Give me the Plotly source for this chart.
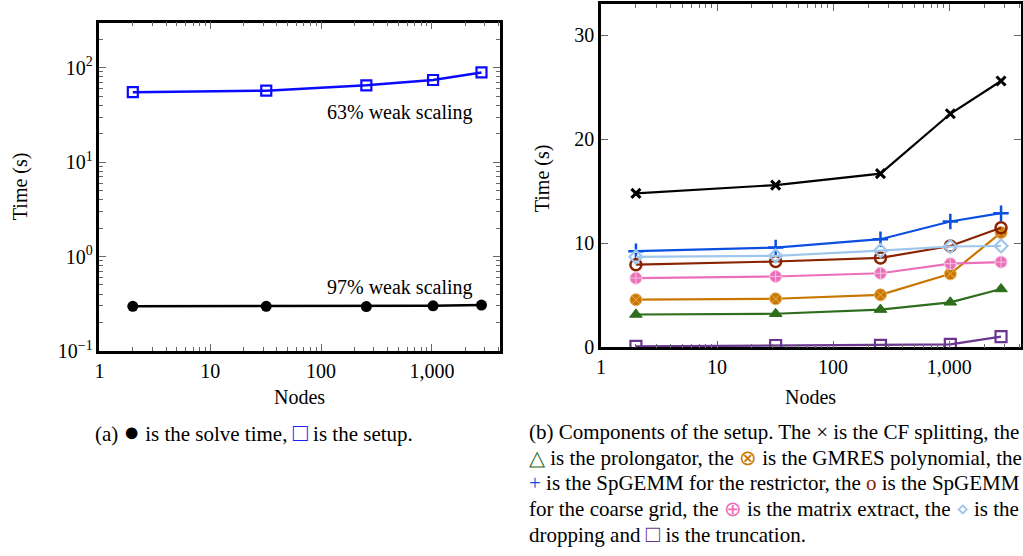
import plotly.graph_objects as go

# ---------------- data ----------------
nodes = [2, 32, 256, 1024, 2800]

# (a) total times
solve_time = [0.297, 0.297, 0.295, 0.300, 0.306]
setup_time = [55, 57, 65, 74, 89]

# (b) setup components
cf_splitting = [14.8, 15.6, 16.7, 22.45, 25.6]
prolongator = [3.17, 3.24, 3.64, 4.34, 5.62]
gmres_poly = [4.59, 4.68, 5.06, 7.07, 11.04]
spgemm_restrictor = [9.25, 9.6, 10.4, 12.1, 12.9]
spgemm_coarse = [7.95, 8.26, 8.6, 9.75, 11.5]
matrix_extract = [6.66, 6.82, 7.13, 8.05, 8.2]
dropping = [8.7, 8.8, 9.3, 9.7, 9.75]
truncation = [0.1, 0.19, 0.2, 0.3, 1.04]

x_tickvals = [1, 10, 100, 1000]
x_ticktext = ["1", "10", "100", "1,000"]
y_log_tickvals = [0.1, 1, 10, 100]
y_log_ticktext = ["10<sup>−1</sup>", "10<sup>0</sup>", "10<sup>1</sup>", "10<sup>2</sup>"]
y_lin_tickvals = [0, 10, 20, 30]

W, H = 1023, 556
FONT = "Liberation Serif, Times New Roman, serif"
TICKC = "#666666"


def px(x):
    return x / W


def py(y):
    return 1 - y / H


minor_x = [m * 10 ** e for e in range(0, 4) for m in range(2, 10) if m * 10 ** e < 4200]
minor_y = [m * 10 ** e for e in range(-1, 3) for m in range(2, 10) if m * 10 ** e < 310]

fig = go.Figure()

# ---- (a) ----
fig.add_trace(go.Scatter(x=nodes, y=setup_time, mode="lines+markers", xaxis="x", yaxis="y",
                         line=dict(color="#0a0aff", width=2.5),
                         marker=dict(symbol="square-open", size=10, color="#0a0aff",
                                     line=dict(width=2.2, color="#0a0aff")),
                         showlegend=False))
fig.add_trace(go.Scatter(x=nodes, y=solve_time, mode="lines+markers", xaxis="x", yaxis="y",
                         line=dict(color="black", width=2.5),
                         marker=dict(symbol="circle", size=11, color="black"),
                         showlegend=False))

# ---- (b) ----
def comp(y, color, symbol, size=10, fill=None, lc=None, lw=2):
    fig.add_trace(go.Scatter(
        x=nodes, y=y, mode="lines+markers", xaxis="x2", yaxis="y2",
        line=dict(color=color, width=2.2),
        marker=dict(symbol=symbol, size=size, color=fill if fill else color,
                    line=dict(width=lw, color=lc if lc else color)),
        showlegend=False))


comp(cf_splitting, "black", "x-thin-open", size=9, lw=3)
comp(prolongator, "#2e6d1c", "triangle-up", size=11, lw=1)
comp(gmres_poly, "#c97700", "circle-x", size=12, fill="#c97700", lc="#e8b060", lw=1)
comp(spgemm_restrictor, "#0b4fe0", "cross-thin-open", size=11, lw=2.5)
comp(spgemm_coarse, "#8a2300", "circle-open", size=11, lw=2.5)
comp(matrix_extract, "#ec6fba", "circle-cross", size=12, fill="#ec6fba", lc="#f8c0e0", lw=1)
comp(dropping, "#9fc6ec", "diamond-open", size=10, lw=2.2)
comp(truncation, "#6b3690", "square-open", size=11, lw=2.2)

axis_common = dict(showline=True, linewidth=2.5, linecolor="black", mirror="allticks",
                   ticks="inside", ticklen=7, tickwidth=1, tickcolor=TICKC,
                   showgrid=False, zeroline=False,
                   tickfont=dict(family=FONT, size=20, color="black"))

fig.update_layout(
    width=W, height=H,
    margin=dict(l=0, r=0, t=0, b=0),
    paper_bgcolor="white", plot_bgcolor="white",
    font=dict(family=FONT, size=20, color="black"),
    xaxis=dict(domain=[px(95), px(498)], type="log", range=[0, 3.615], anchor="y",
               tickmode="array", tickvals=x_tickvals, ticktext=x_ticktext,
               minor=dict(tickmode="array", tickvals=minor_x, ticks="inside", ticklen=4,
                          tickcolor=TICKC, showgrid=False),
               **axis_common),
    yaxis=dict(domain=[py(358), py(23)], type="log", range=[-1, 2.478], anchor="x",
               tickmode="array", tickvals=y_log_tickvals, ticktext=y_log_ticktext,
               minor=dict(tickmode="array", tickvals=minor_y, ticks="inside", ticklen=4,
                          tickcolor=TICKC, showgrid=False),
               **axis_common),
    xaxis2=dict(domain=[px(599.5), px(1021.5)], type="log", range=[0, 3.615], anchor="y2",
                tickmode="array", tickvals=x_tickvals, ticktext=x_ticktext,
                minor=dict(tickmode="array", tickvals=minor_x, ticks="inside", ticklen=4,
                           tickcolor=TICKC, showgrid=False),
                **axis_common),
    yaxis2=dict(domain=[py(354.5), py(4)], range=[0, 33], anchor="x2",
                tickmode="array", tickvals=y_lin_tickvals, ticktext=[str(v) for v in y_lin_tickvals],
                **axis_common),
)

ann = []


def text(x, y, t, size=20, xanchor="center", angle=0):
    ann.append(dict(x=px(x), y=py(y), xref="paper", yref="paper", text=t, showarrow=False,
                    xanchor=xanchor, yanchor="middle", textangle=angle,
                    font=dict(family=FONT, size=size, color="black")))


text(473, 115, "63% weak scaling", xanchor="right")
text(473, 293, "97% weak scaling", xanchor="right")
text(15, 190, "Time (s)", angle=-90)
text(541, 182, "Time (s)", angle=-90)
text(296, 405, "Nodes")
text(810, 405, "Nodes")

text(250, 441, "(a) <span style='font-size:27px'>●</span> is the solve time, "
               "<span style='color:#2020ff;font-size:25px'>□</span> is the setup.", size=21)

cap_lines = [
    "(b) Components of the setup. The × is the CF splitting, the",
    "<span style='color:#2e6d1c'>△</span> is the prolongator, the <span style='color:#c97700'>⊗</span> is the GMRES polynomial, the",
    "<span style='color:#0b4fe0'>+</span> is the SpGEMM for the restrictor, the <span style='color:#8a2300'>o</span> is the SpGEMM",
    "for the coarse grid, the <span style='color:#ec6fba'>⊕</span> is the matrix extract, the <span style='color:#9fc6ec'>⋄</span> is the",
    "dropping and <span style='color:#6b3690;font-size:24px'>□</span> is the truncation.",
]
for i, line in enumerate(cap_lines):
    text(525, 441 + 26 * i, line, size=21, xanchor="left")

fig.update_layout(annotations=ann)

fig.write_html(
    "out.html",
    config={"displayModeBar": False},
    post_script=(
        "var s=document.createElement('style');"
        "s.textContent='html,body{margin:0;padding:0;overflow:hidden;height:556px;width:1023px;}"
        "body>div{height:556px;width:1023px;overflow:hidden;display:block;line-height:0;}"
        ".plotly-graph-div{overflow:hidden !important;position:absolute;left:0;top:0;}"
        ".svg-container{display:block !important;}';"
        "document.head.appendChild(s);"
    ),
)
